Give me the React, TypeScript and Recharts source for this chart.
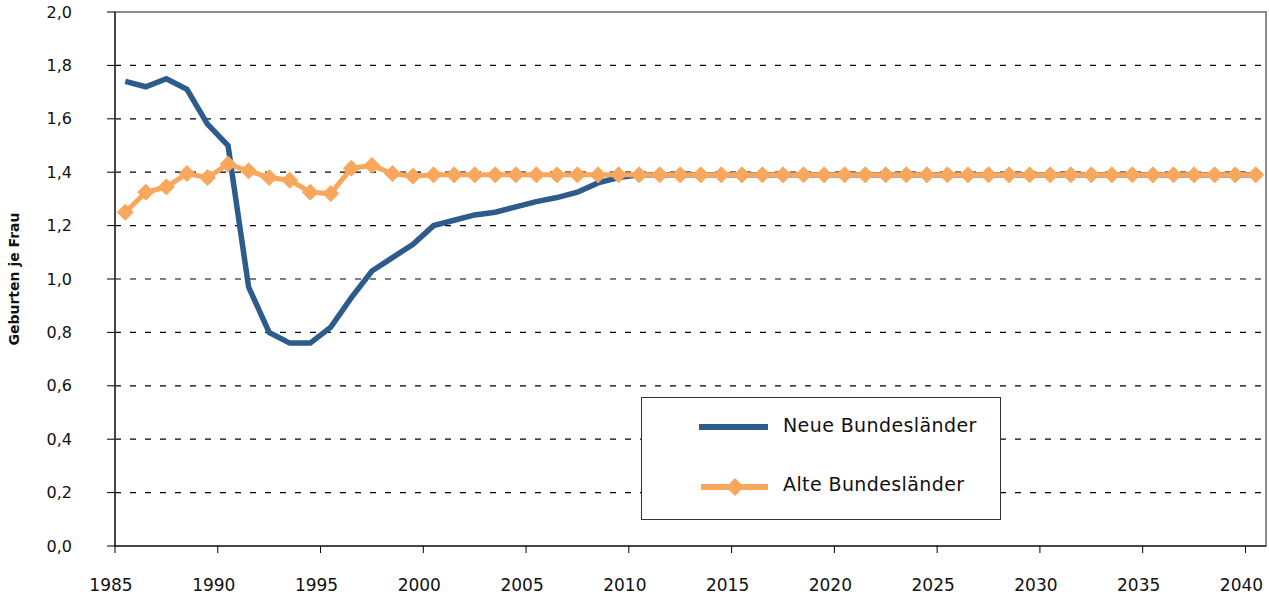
import { CartesianGrid, Legend, Line, LineChart, ReferenceArea, XAxis, YAxis } from "recharts";

const years = [
  1985, 1986, 1987, 1988, 1989, 1990, 1991, 1992, 1993, 1994, 1995, 1996, 1997, 1998,
  1999, 2000, 2001, 2002, 2003, 2004, 2005, 2006, 2007, 2008, 2009, 2010, 2011, 2012,
  2013, 2014, 2015, 2016, 2017, 2018, 2019, 2020, 2021, 2022, 2023, 2024, 2025, 2026,
  2027, 2028, 2029, 2030, 2031, 2032, 2033, 2034, 2035, 2036, 2037, 2038, 2039, 2040,
];

const neue = [
  1.74, 1.72, 1.75, 1.71, 1.58, 1.5, 0.97, 0.8, 0.76, 0.76, 0.82, 0.93, 1.03, 1.08,
  1.13, 1.2, 1.22, 1.24, 1.25, 1.27, 1.29, 1.305, 1.325, 1.36, 1.38, 1.39, 1.39, 1.39,
  1.39, 1.39, 1.39, 1.39, 1.39, 1.39, 1.39, 1.39, 1.39, 1.39, 1.39, 1.39, 1.39, 1.39,
  1.39, 1.39, 1.39, 1.39, 1.39, 1.39, 1.39, 1.39, 1.39, 1.39, 1.39, 1.39, 1.39, 1.39,
];

const alte = [
  1.25, 1.325, 1.345, 1.395, 1.38, 1.43, 1.405, 1.38, 1.37, 1.325, 1.32, 1.415, 1.425, 1.395,
  1.385, 1.39, 1.39, 1.39, 1.39, 1.39, 1.39, 1.39, 1.39, 1.39, 1.39, 1.39, 1.39, 1.39,
  1.39, 1.39, 1.39, 1.39, 1.39, 1.39, 1.39, 1.39, 1.39, 1.39, 1.39, 1.39, 1.39, 1.39,
  1.39, 1.39, 1.39, 1.39, 1.39, 1.39, 1.39, 1.39, 1.39, 1.39, 1.39, 1.39, 1.39, 1.39,
];

const xTicks = [1985, 1990, 1995, 2000, 2005, 2010, 2015, 2020, 2025, 2030, 2035, 2040];
const yTicks = [0, 0.2, 0.4, 0.6, 0.8, 1.0, 1.2, 1.4, 1.6, 1.8, 2.0];
const gridValues = [0.2, 0.4, 0.6, 0.8, 1.0, 1.2, 1.4, 1.6, 1.8];

const BLUE = "#2d5b8b";
const ORANGE = "#f9a75c";
const FONT = "'DejaVu Sans', sans-serif";

// points sit in the middle of each year's slot
const data = years.map((y, i) => ({ x: y + 0.5, neue: neue[i], alte: alte[i] }));

const Diamond = (props: any) => {
  const { cx, cy } = props;
  if (cx == null || cy == null) return null;
  const r = 8;
  return (
    <polygon
      points={`${cx},${cy - r} ${cx + r},${cy} ${cx},${cy + r} ${cx - r},${cy}`}
      fill={ORANGE}
      stroke={ORANGE}
      strokeWidth={1}
    />
  );
};

const XTick = (props: any) => {
  const { x, y, payload } = props;
  return (
    <text x={x - 4} y={y} dy={36} textAnchor="middle" fontSize={17} fontFamily={FONT} fill="#111">
      {payload.value}
    </text>
  );
};

const renderLegend = () => (
  <div
    style={{
      width: 360,
      height: 123,
      boxSizing: "border-box",
      border: "1px solid #333",
      background: "#fff",
      position: "relative",
    }}
  >
    <svg width={360} height={123} style={{ position: "absolute", left: -1, top: -1 }}>
      <line x1={58} x2={127} y1={30} y2={30} stroke={BLUE} strokeWidth={6} />
      <line x1={60} x2={127} y1={90} y2={90} stroke={ORANGE} strokeWidth={6} />
      <polygon points="94,81 103,90 94,99 85,90" fill={ORANGE} />
      <text x={142} y={35} fontSize={19} letterSpacing={0.4} fontFamily={FONT} fill="#111">
        Neue Bundesländer
      </text>
      <text x={142} y={94} fontSize={19} letterSpacing={0.4} fontFamily={FONT} fill="#111">
        Alte Bundesländer
      </text>
    </svg>
  </div>
);

export default function App() {
  return (
    <div style={{ position: "absolute", left: 0, top: 0, width: 1269, height: 596, background: "#fff" }}>
      <LineChart width={1269} height={596} data={data} margin={{ top: 12, right: 3, bottom: 0, left: 0 }}>
        <CartesianGrid
          horizontal
          vertical={false}
          horizontalValues={gridValues}
          stroke="#000"
          strokeWidth={1.2}
          strokeDasharray="6 9"
        />
        <ReferenceArea x1={1985} x2={2041} y1={0} y2={2} fill="none" stroke="#8c8c8c" strokeWidth={2} ifOverflow="visible" />
        <XAxis
          dataKey="x"
          type="number"
          domain={[1985, 2041]}
          ticks={xTicks}
          interval={0}
          height={50}
          tickSize={7}
          axisLine={{ stroke: "#000" }}
          tickLine={{ stroke: "#000" }}
          tick={<XTick />}
          allowDataOverflow
        />
        <YAxis
          type="number"
          domain={[0, 2]}
          ticks={yTicks}
          interval={0}
          width={115}
          tickSize={8}
          tickMargin={35}
          axisLine={{ stroke: "#000" }}
          tickLine={{ stroke: "#000" }}
          tick={{ fontSize: 16, fill: "#111", fontFamily: FONT }}
          tickFormatter={(v: number) => v.toFixed(1).replace(".", ",")}
          label={{
            value: "Geburten je Frau",
            angle: -90,
            position: "insideLeft",
            offset: 14,
            style: { fontSize: 14, fontWeight: "bold", fontFamily: FONT, fill: "#111", textAnchor: "middle" },
          }}
        />
        <Legend
          layout="vertical"
          align="center"
          verticalAlign="middle"
          content={renderLegend}
          wrapperStyle={{ left: 641, top: 397, width: 360, height: 123 }}
        />
        <Line
          dataKey="neue"
          name="Neue Bundesländer"
          stroke={BLUE}
          strokeWidth={5.5}
          dot={false}
          activeDot={false}
          isAnimationActive={false}
        />
        <Line
          dataKey="alte"
          name="Alte Bundesländer"
          stroke={ORANGE}
          strokeWidth={5}
          dot={<Diamond />}
          activeDot={false}
          isAnimationActive={false}
        />
      </LineChart>
    </div>
  );
}
